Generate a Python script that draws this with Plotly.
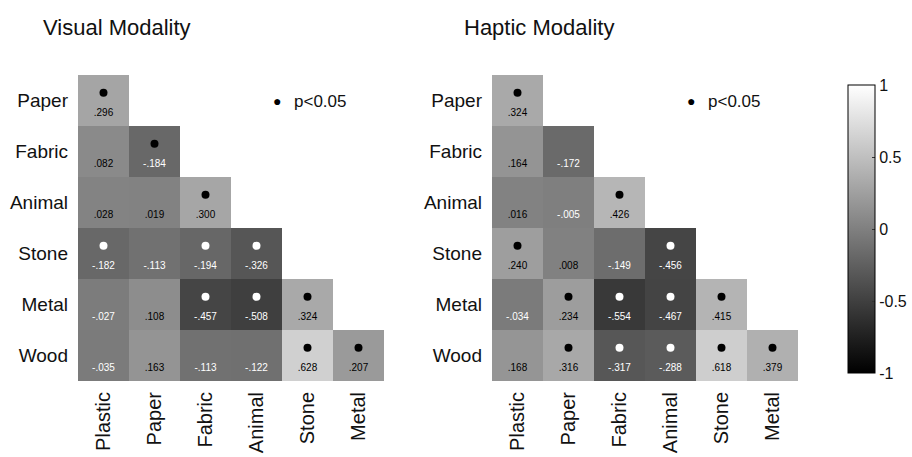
import plotly.graph_objects as go

x_labels = ["Plastic", "Paper", "Fabric", "Animal", "Stone", "Metal"]
y_labels = ["Paper", "Fabric", "Animal", "Stone", "Metal", "Wood"]

visual_r = [
    [0.296],
    [0.082, -0.184],
    [0.028, 0.019, 0.300],
    [-0.182, -0.113, -0.194, -0.326],
    [-0.027, 0.108, -0.457, -0.508, 0.324],
    [-0.035, 0.163, -0.113, -0.122, 0.628, 0.207],
]
visual_labels = [
    [".296"],
    [".082", "-.184"],
    [".028", ".019", ".300"],
    ["-.182", "-.113", "-.194", "-.326"],
    ["-.027", ".108", "-.457", "-.508", ".324"],
    ["-.035", ".163", "-.113", "-.122", ".628", ".207"],
]
# significance marker: "b" = black dot, "w" = white dot, "" = none
visual_sig = [
    ["b"],
    ["", "b"],
    ["", "", "b"],
    ["w", "", "w", "w"],
    ["", "", "w", "w", "b"],
    ["", "", "", "", "b", "b"],
]

haptic_r = [
    [0.324],
    [0.164, -0.172],
    [0.016, -0.005, 0.426],
    [0.240, 0.008, -0.149, -0.456],
    [-0.034, 0.234, -0.554, -0.467, 0.415],
    [0.168, 0.316, -0.317, -0.288, 0.618, 0.379],
]
haptic_labels = [
    [".324"],
    [".164", "-.172"],
    [".016", "-.005", ".426"],
    [".240", ".008", "-.149", "-.456"],
    ["-.034", ".234", "-.554", "-.467", ".415"],
    [".168", ".316", "-.317", "-.288", ".618", ".379"],
]
haptic_sig = [
    ["b"],
    ["", ""],
    ["", "", "b"],
    ["b", "", "", "w"],
    ["", "b", "w", "w", "b"],
    ["", "b", "w", "w", "b", "b"],
]

titles = ["Visual Modality", "Haptic Modality"]
legend_text = "p<0.05"
cbar_ticks = [-1, -0.5, 0, 0.5, 1]
cbar_text = ["-1", "-0.5", "0", "0.5", "1"]

FONT = "Liberation Sans, Arial, sans-serif"
W, H = 912, 457

fig = go.Figure()


def add_panel(r, labels, sig, xa, ya, showscale):
    n = len(y_labels)
    z = []
    for i in range(n):
        row = []
        for j in range(len(x_labels)):
            row.append(r[i][j] if j < len(r[i]) else None)
        z.append(row)
    fig.add_trace(go.Heatmap(
        z=z, x=list(range(len(x_labels))), y=list(range(n)),
        colorscale=[[0, "black"], [1, "white"]], zmin=-1, zmax=1,
        xaxis=xa, yaxis=ya, showscale=showscale, hoverinfo="skip",
        colorbar=dict(
            x=848 / W, xanchor="left", xpad=0, y=1 - 229 / H, yanchor="middle",
            len=308 / H, lenmode="fraction", thickness=27, thicknessmode="pixels",
            outlinecolor="black", outlinewidth=1,
            tickvals=cbar_ticks, ticktext=cbar_text, ticks="inside", ticklen=3,
            tickcolor="#333", tickfont=dict(family=FONT, size=16, color="#111"),
        ),
    ))
    tx, ty, tt, tc = [], [], [], []
    dx, dy, dc = [], [], []
    for i in range(n):
        for j, v in enumerate(r[i]):
            tx.append(j)
            ty.append(i + 0.25)
            tt.append(labels[i][j])
            tc.append("white" if v < 0 else "black")
            if sig[i][j]:
                dx.append(j)
                dy.append(i - 0.15)
                dc.append("white" if sig[i][j] == "w" else "black")
    fig.add_trace(go.Scatter(
        x=tx, y=ty, text=tt, mode="text", textposition="middle center",
        textfont=dict(family=FONT, size=10, color=tc),
        xaxis=xa, yaxis=ya, showlegend=False, hoverinfo="skip"))
    fig.add_trace(go.Scatter(
        x=dx, y=dy, mode="markers",
        marker=dict(size=8, color=dc, line=dict(width=0)),
        xaxis=xa, yaxis=ya, showlegend=False, hoverinfo="skip"))


add_panel(visual_r, visual_labels, visual_sig, "x", "y", False)
add_panel(haptic_r, haptic_labels, haptic_sig, "x2", "y2", True)

ydom = [1 - 381 / H, 1 - 75 / H]
xcommon = dict(showgrid=False, zeroline=False, showline=False, ticks="",
               range=[-0.5, 5.5], tickvals=list(range(6)), ticktext=x_labels,
               tickangle=-90, ticklabelstandoff=6,
               tickfont=dict(family=FONT, size=20, color="#111"))
ycommon = dict(showgrid=False, zeroline=False, showline=False, ticks="",
               domain=ydom, range=[5.5, -0.5], tickvals=list(range(6)),
               ticktext=y_labels, ticklabelstandoff=9,
               tickfont=dict(family=FONT, size=19, color="#111"))
fig.update_layout(
    width=W, height=H, margin=dict(l=0, r=0, t=0, b=0),
    paper_bgcolor="white", plot_bgcolor="white", showlegend=False,
    xaxis=dict(domain=[78 / W, 384 / W], anchor="y", **xcommon),
    yaxis=dict(anchor="x", **ycommon),
    xaxis2=dict(domain=[492 / W, 798 / W], anchor="y2", **xcommon),
    yaxis2=dict(anchor="x2", **ycommon),
)

annotations = []
for tx_px, title in zip([41, 462], titles):
    annotations.append(dict(
        x=tx_px / W, y=1 - 28 / H, xref="paper", yref="paper",
        xanchor="left", yanchor="middle", text=title, showarrow=False,
        font=dict(family=FONT, size=22, color="#111")))
for dot_px, txt_px in [(277, 292), (691, 706)]:
    annotations.append(dict(
        x=dot_px / W, y=1 - 101 / H, xref="paper", yref="paper",
        xanchor="center", yanchor="middle", text="\u25CF", showarrow=False,
        font=dict(family=FONT, size=14, color="black")))
    annotations.append(dict(
        x=txt_px / W, y=1 - 101 / H, xref="paper", yref="paper",
        xanchor="left", yanchor="middle", text=legend_text, showarrow=False,
        font=dict(family=FONT, size=17, color="#111")))
fig.update_layout(annotations=annotations)

fig.write_html("out.html")
